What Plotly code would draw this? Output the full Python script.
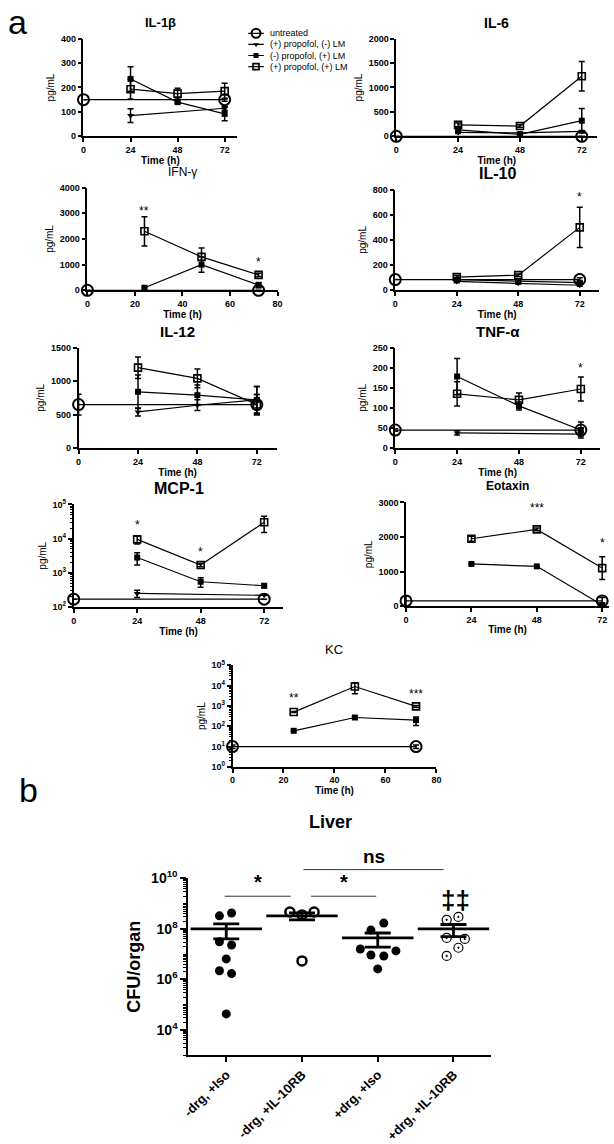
import math
import plotly.graph_objects as go

W, H = 614, 1144
FONT = "Liberation Sans, Arial, sans-serif"

# ---------------- data (panel a) ----------------
t_untr = [0, 72]
t_trt = [24, 48, 72]
series_keys = ["untr", "tri", "fsq", "osq"]
series_names = ["untreated", "(+) propofol, (-) LM", "(-) propofol, (+) LM", "(+) propofol, (+) LM"]

il1b_untr = [150, 150];      il1b_untr_err = [0, 6]
il1b_tri = [85, None, 115];  il1b_tri_err = [28, 0, 8]
il1b_fsq = [235, 140, 92];   il1b_fsq_err = [50, 5, 28]
il1b_osq = [193, 175, 185];  il1b_osq_err = [40, 22, 32]

il6_untr = [0, 0];           il6_untr_err = [0, 0]
il6_tri = [80, 70, 100];     il6_tri_err = [20, 10, 20]
il6_fsq = [130, 40, 320];    il6_fsq_err = [40, 10, 250]
il6_osq = [235, 210, 1230];  il6_osq_err = [40, 30, 300]

ifng_untr = [0, 0];          ifng_untr_err = [0, 0]
ifng_fsq = [100, 1000, 200]; ifng_fsq_err = [0, 300, 100]
ifng_osq = [2300, 1300, 600]; ifng_osq_err = [570, 350, 60]
ifng_stars = [(24, 3100, "**"), (72, 1100, "*")]

il10_untr = [85, 85];        il10_untr_err = [0, 15]
il10_tri = [70, 55, 40];     il10_tri_err = [10, 5, 8]
il10_fsq = [85, 70, 60];     il10_fsq_err = [10, 8, 8]
il10_osq = [105, 120, 500];  il10_osq_err = [15, 10, 160]
il10_stars = [(72, 740, "*")]

il12_untr = [650, 650];      il12_untr_err = [155, 150]
il12_tri = [540, 640, 720];  il12_tri_err = [60, 80, 200]
il12_fsq = [840, 790, 720];  il12_fsq_err = [250, 150, 200]
il12_osq = [1200, 1040, 650]; il12_osq_err = [160, 140, 150]

tnf_untr = [45, 45];         tnf_untr_err = [3, 5]
tnf_tri = [38, None, 35];    tnf_tri_err = [5, 0, 5]
tnf_fsq = [178, 105, 45];    tnf_fsq_err = [45, 10, 20]
tnf_osq = [135, 120, 147];   tnf_osq_err = [30, 17, 30]
tnf_stars = [(72, 198, "*")]

mcp_untr = [170, 170];       mcp_untr_err = [0, 0]
mcp_tri = [250, None, 220];  mcp_tri_err = [60, 0, 0]
mcp_fsq = [2800, 550, 420];  mcp_fsq_err = [1100, 170, 50]
mcp_osq = [9500, 1700, 30000]; mcp_osq_err = [2500, 200, 15000]
mcp_stars = [(24, 25000, "*"), (48, 4000, "*")]

eot_untr = [150, 150];       eot_untr_err = [150, 100]
eot_fsq = [1220, 1150, 30];  eot_fsq_err = [0, 0, 0]
eot_osq = [1950, 2220, 1100]; eot_osq_err = [70, 40, 330]
eot_stars = [(48, 2830, "***"), (72, 1830, "*")]

kc_untr = [10, 10];          kc_untr_err = [2, 2]
kc_fsq = [60, 270, 200];     kc_fsq_err = [0, 30, 90]
kc_osq = [500, 9000, 950];   kc_osq_err = [30, 5000, 100]
kc_stars = [(24, 2500, "**"), (72, 4000, "***")]

# ---------------- data (panel b) ----------------
liver_groups = ["-drg, +Iso", "-drg, +IL-10RB", "+drg, +Iso", "+drg, +IL-10RB"]
liver_g1 = [3.3e8, 4.3e8, 3.1e7, 2.3e7, 6.5e6, 2.2e6, 1.7e6, 4.3e4]
liver_g2 = [4.7e8, 3.6e8, 4.7e8, 5.4e6]
liver_g3 = [9.0e7, 1.7e8, 1.6e7, 9.3e6, 8.5e6, 1.35e7, 2.6e6]
liver_g4 = [2.3e8, 3.0e8, 4.4e7, 4.0e7, 1.8e7, 8.5e6]
liver_mean = [1.0e8, 3.3e8, 4.4e7, 1.0e8]
liver_sem = [6.0e7, 1.0e8, 2.5e7, 5.0e7]

# horizontal scatter offsets of the dots (layout, category units)
liver_dx1 = [-0.09, 0.07, -0.09, 0.07, 0.0, -0.09, 0.07, 0.0]
liver_dx2 = [-0.16, 0.0, 0.16, 0.0]
liver_dx3 = [-0.09, 0.08, -0.23, -0.09, 0.08, 0.24, 0.0]
liver_dx4 = [-0.09, 0.065, -0.09, 0.15, 0.065, -0.09]

# ---------------- styles ----------------
STY = {
    "untr": dict(symbol="circle-open", size=11, color="black", line=dict(width=2, color="black")),
    "tri": dict(symbol="triangle-down", size=6, color="black"),
    "fsq": dict(symbol="square", size=6, color="black"),
    "osq": dict(symbol="square-open", size=7, color="black", line=dict(width=1.6, color="black")),
}
LEG_SIZE = {"untr": 9, "tri": 5, "fsq": 5, "osq": 6}
NAME = dict(zip(series_keys, series_names))

fig = go.Figure()
layout = {}
annotations = []
shapes = []


def dom(x0, x1, yt, yb):
    return [x0 / W, x1 / W], [1 - yb / H, 1 - yt / H]


def ax_ids(n):
    s = "" if n == 1 else str(n)
    return f"x{s}", f"y{s}", f"xaxis{s}", f"yaxis{s}"


def add_panel(n, title, tfont, geom, xr, xticks, yr, yticks, ylog, series, stars, ytext=None):
    xd, yd = dom(*geom)
    xa, ya, xk, yk = ax_ids(n)
    for key, y, err in series:
        xs = t_untr if key == "untr" else t_trt
        fig.add_trace(go.Scatter(
            x=xs, y=y, mode="lines+markers", name=NAME[key],
            line=dict(color="black", width=1.2), marker=STY[key],
            error_y=dict(type="data", array=err, color="black", thickness=1.5, width=3),
            connectgaps=True, cliponaxis=False, xaxis=xa, yaxis=ya, showlegend=False))
    axis_common = dict(showline=True, linecolor="black", linewidth=1.5, ticks="outside",
                       ticklen=4, tickwidth=1.5, tickcolor="black", showgrid=False, zeroline=False,
                       tickfont=dict(family=FONT, size=9, color="black", weight="bold"))
    layout[xk] = dict(domain=xd, anchor=ya, range=xr, tickvals=xticks,
                      title=dict(text="Time (h)", font=dict(family=FONT, size=10, color="black", weight="bold"),
                                 standoff=2),
                      **axis_common)
    ycfg = dict(domain=yd, anchor=xa, title=dict(text="pg/mL", font=dict(family=FONT, size=10, color="black"),
                                                   standoff=4), **axis_common)
    if ylog:
        ycfg.update(type="log", range=yr, tickvals=yticks, ticktext=ytext,
                    minor=dict(ticks="outside", ticklen=2, tickwidth=1, tickcolor="black", dtick="D1"))
    else:
        ycfg.update(range=yr, tickvals=yticks)
    layout[yk] = ycfg
    annotations.append(dict(text=title, xref=f"{xa} domain", yref=f"{ya} domain", x=0.5, y=1, yshift=16,
                            xanchor="center", yanchor="middle", showarrow=False, font=tfont))
    for sx, sy, st in stars:
        annotations.append(dict(text=st, xref=xa, yref=ya, x=sx, y=(math.log10(sy) if ylog else sy),
                                showarrow=False, xanchor="center", yanchor="middle",
                                font=dict(family=FONT, size=12, color="black")))


def tf(size, bold=True):
    return dict(family=FONT, size=size, color="black", weight="bold" if bold else "normal")


def sup(k):
    return f"10<sup>{k}</sup>"


add_panel(1, "IL-1β", tf(13), (78, 235, 29, 128), [0, 78.5], [0, 24, 48, 72], [0, 400], [0, 100, 200, 300, 400], False,
          [("untr", il1b_untr, il1b_untr_err), ("tri", il1b_tri, il1b_tri_err),
           ("fsq", il1b_fsq, il1b_fsq_err), ("osq", il1b_osq, il1b_osq_err)], [])
add_panel(2, "IL-6", tf(14), (397, 602, 29, 128), [0, 78], [0, 24, 48, 72], [0, 2000], [0, 500, 1000, 1500, 2000], False,
          [("untr", il6_untr, il6_untr_err), ("tri", il6_tri, il6_tri_err),
           ("fsq", il6_fsq, il6_fsq_err), ("osq", il6_osq, il6_osq_err)], [])
add_panel(3, "IFN-γ", tf(12, False), (82, 276, 180, 284), [0, 80], [0, 20, 40, 60, 80], [0, 4000],
          [0, 1000, 2000, 3000, 4000], False,
          [("untr", ifng_untr, ifng_untr_err), ("fsq", ifng_fsq, ifng_fsq_err), ("osq", ifng_osq, ifng_osq_err)],
          ifng_stars)
add_panel(4, "IL-10", tf(16), (396, 604, 182, 284), [0, 79.6], [0, 24, 48, 72], [0, 800], [0, 200, 400, 600, 800], False,
          [("untr", il10_untr, il10_untr_err), ("tri", il10_tri, il10_tri_err),
           ("fsq", il10_fsq, il10_fsq_err), ("osq", il10_osq, il10_osq_err)], il10_stars)
add_panel(5, "IL-12", tf(15), (73, 275, 342, 444), [0, 80], [0, 24, 48, 72], [0, 1500], [0, 500, 1000, 1500], False,
          [("untr", il12_untr, il12_untr_err), ("tri", il12_tri, il12_tri_err),
           ("fsq", il12_fsq, il12_fsq_err), ("osq", il12_osq, il12_osq_err)], [])
add_panel(6, "TNF-α", tf(15), (396, 605, 342, 444), [0, 79.5], [0, 24, 48, 72], [0, 250],
          [0, 50, 100, 150, 200, 250], False,
          [("untr", tnf_untr, tnf_untr_err), ("tri", tnf_tri, tnf_tri_err),
           ("fsq", tnf_fsq, tnf_fsq_err), ("osq", tnf_osq, tnf_osq_err)], tnf_stars)
add_panel(7, "MCP-1", tf(16), (68, 282, 501, 605), [0, 79.3], [0, 24, 48, 72], [2, 5],
          [1e2, 1e3, 1e4, 1e5], True,
          [("untr", mcp_untr, mcp_untr_err), ("tri", mcp_tri, mcp_tri_err),
           ("fsq", mcp_fsq, mcp_fsq_err), ("osq", mcp_osq, mcp_osq_err)], mcp_stars,
          ytext=[sup(k) for k in range(2, 6)])
add_panel(8, "Eotaxin", tf(12), (407, 614, 499, 604), [0, 74.5], [0, 24, 48, 72], [0, 3000], [0, 1000, 2000, 3000],
          False,
          [("untr", eot_untr, eot_untr_err), ("fsq", eot_fsq, eot_fsq_err), ("osq", eot_osq, eot_osq_err)], eot_stars)
add_panel(9, "KC", tf(13, False), (230, 438, 664, 767), [0, 80], [0, 20, 40, 60, 80], [0, 5],
          [1e0, 1e1, 1e2, 1e3, 1e4, 1e5], True,
          [("untr", kc_untr, kc_untr_err), ("fsq", kc_fsq, kc_fsq_err), ("osq", kc_osq, kc_osq_err)], kc_stars,
          ytext=[sup(k) for k in range(0, 6)])

# ---------------- compact legend (key drawn in its own hidden axes) ----------------
lxd, lyd = dom(246, 262, 18, 63)
layout["xaxis11"] = dict(domain=lxd, anchor="y11", range=[0, 1], visible=False, fixedrange=True)
layout["yaxis11"] = dict(domain=lyd, anchor="x11", range=[-0.5, len(series_keys) - 0.5], visible=False,
                         fixedrange=True)
for i, key in enumerate(series_keys):
    row = len(series_keys) - 1 - i
    fig.add_trace(go.Scatter(x=[0, 1], y=[row, row], mode="lines", line=dict(color="black", width=1.2),
                             xaxis="x11", yaxis="y11", showlegend=False, hoverinfo="skip", cliponaxis=False))
    mk = dict(STY[key]); mk["size"] = LEG_SIZE[key]
    fig.add_trace(go.Scatter(x=[0.5], y=[row], mode="markers", marker=mk, xaxis="x11", yaxis="y11",
                             showlegend=False, hoverinfo="skip", cliponaxis=False))
    annotations.append(dict(text=NAME[key], xref="paper", yref="y11", x=266 / W, y=row, xanchor="left",
                            yanchor="middle", showarrow=False, font=dict(family=FONT, size=9, color="black")))

# ---------------- panel b: Liver ----------------
liver_pts = [(liver_g1, liver_dx1, dict(symbol="circle", size=9, color="black")),
             (liver_g2, liver_dx2, dict(symbol="circle-open", size=9, color="black", line=dict(width=2.5, color="black"))),
             (liver_g3, liver_dx3, dict(symbol="circle", size=9, color="black")),
             (liver_g4, liver_dx4, dict(symbol="circle-open-dot", size=9, color="black", line=dict(width=1.2, color="black")))]
for gi, (vals, dxs, mk) in enumerate(liver_pts):
    fig.add_trace(go.Scatter(x=[gi + d for d in dxs], y=vals, mode="markers", marker=mk,
                             xaxis="x10", yaxis="y10", showlegend=False, cliponaxis=False))
fig.add_trace(go.Scatter(x=list(range(len(liver_groups))), y=liver_mean, mode="markers",
                         marker=dict(symbol="line-ew", size=51, line=dict(width=2.8, color="black")),
                         error_y=dict(type="data", array=liver_sem, color="black", thickness=2.8, width=13),
                         xaxis="x10", yaxis="y10", showlegend=False, cliponaxis=False))

xd, yd = dom(185, 494, 880, 1059)
layout["xaxis10"] = dict(domain=xd, anchor="y10", range=[-0.5, 3.5], tickvals=list(range(len(liver_groups))),
                         ticktext=liver_groups, tickangle=-45, showline=True, linecolor="black", linewidth=2,
                         ticks="outside", ticklen=5, tickwidth=2, tickcolor="black", showgrid=False, zeroline=False,
                         tickfont=dict(family=FONT, size=13, color="black", weight="bold"))
layout["yaxis10"] = dict(domain=yd, anchor="x10", type="log", range=[3, 10],
                         tickvals=[1e4, 1e6, 1e8, 1e10], ticktext=[sup(k) for k in (4, 6, 8, 10)],
                         showline=True, linecolor="black", linewidth=2, ticks="outside", ticklen=6, tickwidth=2,
                         tickcolor="black", showgrid=False, zeroline=False,
                         minor=dict(ticks="outside", ticklen=3, tickwidth=1, tickcolor="black", dtick="D1"),
                         tickfont=dict(family=FONT, size=14, color="black", weight="bold"),
                         title=dict(text="CFU/organ", font=dict(family=FONT, size=18, color="black", weight="bold"),
                                    standoff=6))
annotations.append(dict(text="Liver", xref="paper", yref="paper", x=330 / W, y=1 - 823 / H,
                        xanchor="center", yanchor="middle", showarrow=False, font=tf(18)))

# significance brackets (category units / paper)
sig_lines = [(-0.02, 0.85, 898, "*"), (1.12, 1.98, 898, "*"), (1.02, 2.87, 871, "ns")]
for x0, x1, ypx, txt in sig_lines:
    shapes.append(dict(type="line", xref="x10", yref="paper", x0=x0, x1=x1, y0=1 - ypx / H, y1=1 - ypx / H,
                       line=dict(color="#333333", width=1)))
    annotations.append(dict(text=txt, xref="x10", yref="paper", x=(x0 + x1) / 2, y=1 - ypx / H, yshift=1,
                            xanchor="center", yanchor="bottom", showarrow=False,
                            font=dict(family=FONT, size=20 if txt == "*" else 19, color="black", weight="bold")))
annotations.append(dict(text="‡‡", xref="x10", yref="paper", x=3.03, y=1 - 902 / H, xanchor="center",
                        yanchor="middle", showarrow=False, font=dict(family=FONT, size=26, color="black", weight="bold")))

# panel letters
annotations.append(dict(text="a", xref="paper", yref="paper", x=11 / W, y=1 - 12 / H, showarrow=False,
                        xanchor="center", yanchor="middle", font=dict(family=FONT, size=34, color="black")))
annotations.append(dict(text="b", xref="paper", yref="paper", x=22 / W, y=1 - 790 / H, showarrow=False,
                        xanchor="center", yanchor="middle", font=dict(family=FONT, size=34, color="black")))

fig.update_layout(
    width=W, height=H, margin=dict(l=0, r=0, t=0, b=0),
    paper_bgcolor="white", plot_bgcolor="white", showlegend=False,
    font=dict(family=FONT, color="black"),
    annotations=annotations, shapes=shapes, **layout)

fig.write_html("out.html", config={"displayModeBar": False},
               post_script="document.body.style.margin='0';")
